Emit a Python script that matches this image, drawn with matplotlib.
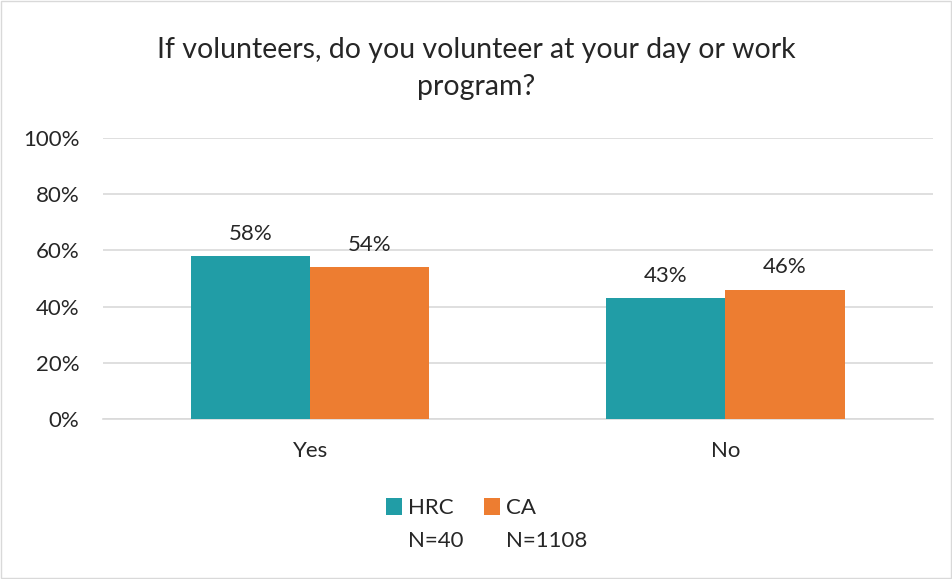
import numpy as np
import matplotlib.pyplot as plt
from matplotlib.patches import Rectangle

# data
categories = ["Yes", "No"]
series_names = ["HRC", "CA"]
series_n = ["N=40", "N=1108"]
hrc_values = [58, 43]
ca_values = [54, 46]
colors = ["#219DA6", "#ED7D31"]

plt.rcParams['font.family'] = ['Lato', 'DejaVu Sans']
txt_color = "#262626"

fig = plt.figure(figsize=(9.52, 5.79), dpi=100)
ax = fig.add_axes([0.108, 0.2763, 0.872, 0.4854])

x = np.arange(len(categories))
width = 0.287
for i, vals in enumerate([hrc_values, ca_values]):
    b = ax.bar(x + (i - 0.5) * width, vals, width, color=colors[i],
               label=series_names[i], zorder=3)
    for rect, v in zip(b, vals):
        ax.annotate(f"{v}%", (rect.get_x() + rect.get_width() / 2, v),
                    xytext=(0, 9), textcoords="offset points",
                    ha="center", va="bottom", fontsize=16, color=txt_color)

ax.set_xlim(-0.5, 1.5)
ax.set_ylim(0, 100)
ax.set_yticks(np.arange(0, 101, 20))
ax.set_yticklabels([f"{t}%" for t in range(0, 101, 20)])
ax.set_xticks(x)
ax.set_xticklabels(categories)
ax.tick_params(axis="both", length=0, labelsize=16, labelcolor=txt_color)
ax.tick_params(axis="y", pad=17)
ax.tick_params(axis="x", pad=16)
ax.grid(axis="y", color="#D9D9D9", linewidth=1.2, zorder=0)
for s in ["top", "right", "left"]:
    ax.spines[s].set_visible(False)
ax.spines["bottom"].set_color("#D9D9D9")
ax.spines["bottom"].set_linewidth(1.2)

fig.text(0.5, 0.882, "If volunteers, do you volunteer at your day or work\nprogram?",
         ha="center", va="center", fontsize=20.5, color=txt_color, linespacing=1.5)

leg = fig.legend(loc="center", bbox_to_anchor=(0.484, 0.122), ncol=2,
                 frameon=False, fontsize=16, handlelength=0.75, handleheight=0.75,
                 columnspacing=1.35, handletextpad=0.25)
for t in leg.get_texts():
    t.set_color(txt_color)

# second legend line with the sample sizes, under each series name
fig.canvas.draw()
inv = fig.transFigure.inverted()
for t, n in zip(leg.get_texts(), series_n):
    bb = t.get_window_extent()
    x0, y0 = inv.transform((bb.x0, bb.y0))
    fig.text(x0, y0 - 0.057, n, ha="left", va="bottom", fontsize=16, color=txt_color)

fig.patches.append(Rectangle((0.001, 0.001), 0.998, 0.998, transform=fig.transFigure,
                             fill=False, edgecolor="#D9D9D9", linewidth=1))

fig.savefig("out.png", dpi=100)
